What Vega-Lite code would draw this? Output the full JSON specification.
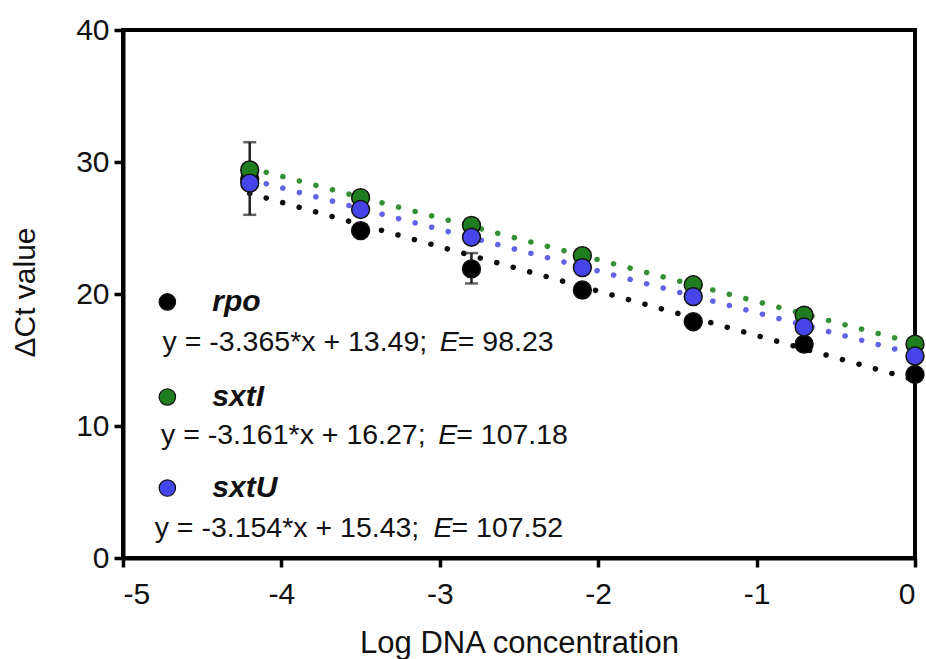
{
  "$schema": "https://vega.github.io/schema/vega-lite/v6.json",
  "width": 792,
  "height": 528,
  "autosize": {"type": "none"},
  "padding": {"left": 123, "top": 30, "right": 11, "bottom": 101},
  "background": "white",
  "config": {
    "font": "Liberation Sans",
    "view": {"stroke": "black", "strokeWidth": 4},
    "axis": {"grid": false}
  },
  "datasets": {
    "pts": [
      {"series": "rpo", "x": -4.2, "y": 28.7, "lo": 26.0, "hi": 31.5},
      {"series": "rpo", "x": -3.5, "y": 24.8, "lo": 24.8, "hi": 24.8},
      {"series": "rpo", "x": -2.8, "y": 21.9, "lo": 20.8, "hi": 23.1},
      {"series": "rpo", "x": -2.1, "y": 20.3, "lo": 20.3, "hi": 20.3},
      {"series": "rpo", "x": -1.4, "y": 17.9, "lo": 17.9, "hi": 17.9},
      {"series": "rpo", "x": -0.7, "y": 16.2, "lo": 16.2, "hi": 16.2},
      {"series": "rpo", "x": 0, "y": 13.9, "lo": 13.9, "hi": 13.9},
      {"series": "sxtU", "x": -4.2, "y": 28.4, "lo": 28.4, "hi": 28.4},
      {"series": "sxtU", "x": -3.5, "y": 26.4, "lo": 26.4, "hi": 26.4},
      {"series": "sxtU", "x": -2.8, "y": 24.3, "lo": 24.3, "hi": 24.3},
      {"series": "sxtU", "x": -2.1, "y": 22.0, "lo": 22.0, "hi": 22.0},
      {"series": "sxtU", "x": -1.4, "y": 19.8, "lo": 19.8, "hi": 19.8},
      {"series": "sxtU", "x": -0.7, "y": 17.5, "lo": 17.5, "hi": 17.5},
      {"series": "sxtU", "x": 0, "y": 15.3, "lo": 15.3, "hi": 15.3},
      {"series": "sxtI", "x": -4.2, "y": 29.4, "lo": 29.4, "hi": 29.4},
      {"series": "sxtI", "x": -3.5, "y": 27.3, "lo": 27.3, "hi": 27.3},
      {"series": "sxtI", "x": -2.8, "y": 25.2, "lo": 25.2, "hi": 25.2},
      {"series": "sxtI", "x": -2.1, "y": 22.9, "lo": 22.9, "hi": 22.9},
      {"series": "sxtI", "x": -1.4, "y": 20.7, "lo": 20.7, "hi": 20.7},
      {"series": "sxtI", "x": -0.7, "y": 18.4, "lo": 18.4, "hi": 18.4},
      {"series": "sxtI", "x": 0, "y": 16.2, "lo": 16.2, "hi": 16.2}
    ],
    "fits": [
      {"series": "rpo", "x": -4.2, "y": 27.62},
      {"series": "rpo", "x": 0, "y": 13.49},
      {"series": "sxtU", "x": -4.2, "y": 28.68},
      {"series": "sxtU", "x": 0, "y": 15.43},
      {"series": "sxtI", "x": -4.2, "y": 29.55},
      {"series": "sxtI", "x": 0, "y": 16.27}
    ],
    "legend": [
      {"series": "rpo", "sx": -4.72, "sy": 19.4, "eqx": -4.75, "eqy": 16.4, "eq": "y = -3.365*x + 13.49;", "ex": -3.0, "ev": "= 98.23"},
      {"series": "sxtI", "sx": -4.72, "sy": 12.2, "eqx": -4.76, "eqy": 9.3, "eq": "y = -3.161*x + 16.27;", "ex": -3.01, "ev": "= 107.18"},
      {"series": "sxtU", "sx": -4.72, "sy": 5.3, "eqx": -4.8, "eqy": 2.3, "eq": "y = -3.154*x + 15.43;", "ex": -3.04, "ev": "= 107.52"}
    ]
  },
  "layer": [
    {
      "data": {"name": "fits"},
      "mark": {"type": "line", "strokeDash": [0.1, 17], "strokeCap": "round", "strokeWidth": 5.5, "opacity": 0.95},
      "encoding": {
        "x": {"field": "x", "type": "quantitative", "scale": {"domain": [-5, 0], "nice": false, "zero": false},
          "axis": {"title": "Log DNA concentration", "values": [-5, -4, -3, -2, -1, 0],
            "labelExpr": "toString(datum.value)",
            "labelFontSize": 30, "labelColor": "#111", "labelPadding": 12,
            "tickSize": 9, "tickWidth": 3.5, "tickColor": "black",
            "domainColor": "black", "domainWidth": 4,
            "titleFontSize": 31, "titleFontWeight": "normal", "titleColor": "#111",
            "titleBaseline": "middle", "titleY": 85}},
        "y": {"field": "y", "type": "quantitative", "scale": {"domain": [0, 40], "nice": false},
          "axis": {"title": "ΔCt value", "values": [0, 10, 20, 30, 40],
            "labelFontSize": 30, "labelColor": "#111", "labelPadding": 5,
            "tickSize": 9, "tickWidth": 3.5, "tickColor": "black",
            "domainColor": "black", "domainWidth": 4,
            "titleFontSize": 30, "titleFontWeight": "normal", "titleColor": "#111",
            "titleBaseline": "middle", "titleX": -98, "titleY": 262}},
        "color": {"field": "series", "type": "nominal", "legend": null,
          "scale": {"domain": ["rpo", "sxtI", "sxtU"], "range": ["#000000", "#2a8a2a", "#5a5ae6"]}},
        "detail": {"field": "series"}
      }
    },
    {
      "data": {"name": "pts"},
      "mark": {"type": "rule", "strokeWidth": 2.5, "color": "#222"},
      "encoding": {
        "x": {"field": "x", "type": "quantitative"},
        "y": {"field": "lo", "type": "quantitative"},
        "y2": {"field": "hi"}
      }
    },
    {
      "data": {"name": "pts"},
      "transform": [{"filter": "datum.hi > datum.lo"}, {"fold": ["lo", "hi"], "as": ["end", "v"]}],
      "mark": {"type": "tick", "orient": "horizontal", "size": 13, "thickness": 2.5, "color": "#222"},
      "encoding": {
        "x": {"field": "x", "type": "quantitative"},
        "y": {"field": "v", "type": "quantitative"}
      }
    },
    {
      "data": {"name": "pts"},
      "mark": {"type": "point", "shape": "circle", "filled": true, "size": 320, "opacity": 1, "stroke": "#111", "strokeWidth": 1.5},
      "encoding": {
        "x": {"field": "x", "type": "quantitative"},
        "y": {"field": "y", "type": "quantitative"},
        "fill": {"field": "series", "type": "nominal", "legend": null,
          "scale": {"domain": ["rpo", "sxtI", "sxtU"], "range": ["#000000", "#1f7d1f", "#4545ea"]}},
        "order": {"field": "series", "sort": "ascending"}
      }
    },
    {
      "data": {"name": "legend"},
      "mark": {"type": "point", "shape": "circle", "filled": true, "size": 270, "opacity": 1, "stroke": "#111", "strokeWidth": 1.2},
      "encoding": {
        "x": {"field": "sx", "type": "quantitative"},
        "y": {"field": "sy", "type": "quantitative"},
        "fill": {"field": "series", "type": "nominal", "legend": null}
      }
    },
    {
      "data": {"name": "legend"},
      "mark": {"type": "text", "align": "left", "baseline": "middle", "dx": 45, "fontSize": 30, "fontWeight": "bold", "fontStyle": "italic", "color": "#111"},
      "encoding": {
        "x": {"field": "sx", "type": "quantitative"},
        "y": {"field": "sy", "type": "quantitative"},
        "text": {"field": "series"}
      }
    },
    {
      "data": {"name": "legend"},
      "mark": {"type": "text", "align": "left", "baseline": "middle", "fontSize": 28.5, "color": "#111"},
      "encoding": {
        "x": {"field": "eqx", "type": "quantitative"},
        "y": {"field": "eqy", "type": "quantitative"},
        "text": {"field": "eq"}
      }
    },
    {
      "data": {"name": "legend"},
      "mark": {"type": "text", "align": "left", "baseline": "middle", "fontSize": 28.5, "fontStyle": "italic", "color": "#111"},
      "encoding": {
        "x": {"field": "ex", "type": "quantitative"},
        "y": {"field": "eqy", "type": "quantitative"},
        "text": {"value": "E"}
      }
    },
    {
      "data": {"name": "legend"},
      "mark": {"type": "text", "align": "left", "baseline": "middle", "dx": 18, "fontSize": 28.5, "color": "#111"},
      "encoding": {
        "x": {"field": "ex", "type": "quantitative"},
        "y": {"field": "eqy", "type": "quantitative"},
        "text": {"field": "ev"}
      }
    }
  ]
}
